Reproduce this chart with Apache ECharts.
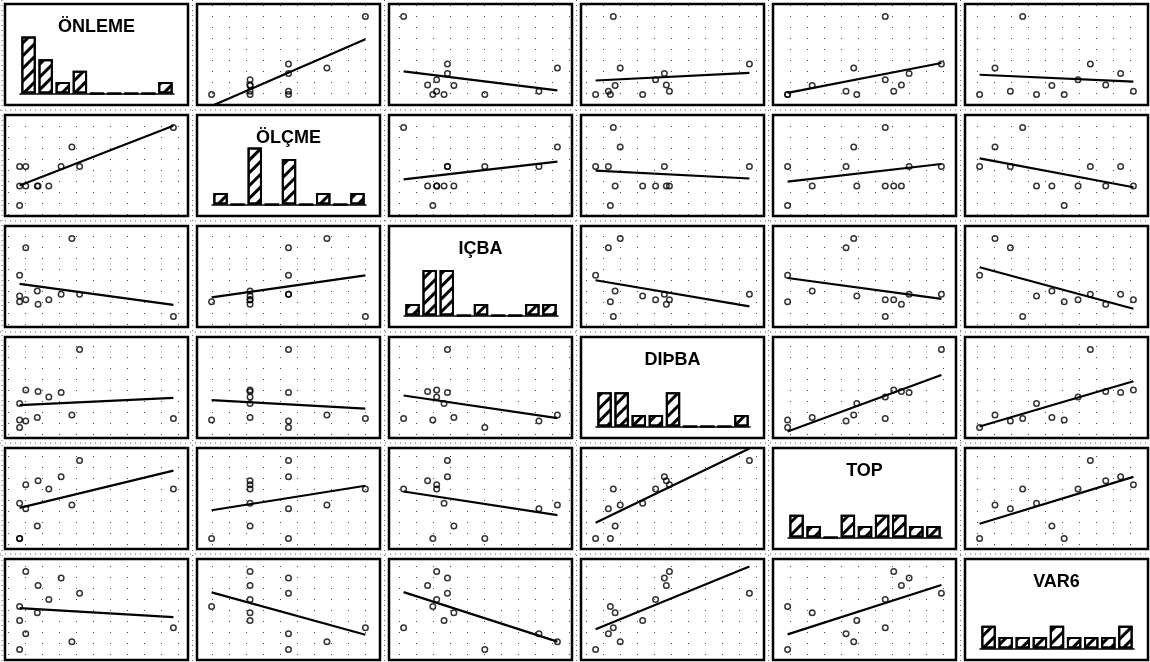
<!DOCTYPE html>
<html>
<head>
<meta charset="utf-8">
<script src="https://cdn.jsdelivr.net/npm/echarts@6/dist/echarts.min.js"></script>
<style>
  html, body { margin: 0; padding: 0; background: #fff; }
  #chart { width: 1150px; height: 662px; }
</style>
</head>
<body>
<div id="chart"></div>
<script>
const VAR_NAMES = ['ÖNLEME', 'ÖLÇME', 'IÇBA', 'DIÞBA', 'TOP', 'VAR6'];
const ONLEME = [0, 4, 0, 4, 11.5, 19, 34, 27, 39, 100, 0, 12];
const OLCME  = [50, 50, 25, 25, 25, 25, 75, 50, 50, 100, 0, 25];
const ICBA   = [52.8, 88, 26.3, 21.5, 32.7, 21.5, 100, 28.5, 28.5, 0, 19, 15.6];
const DISBA  = [0, 8.3, 30.6, 48, 12.7, 39, 16, 44.7, 100, 11.5, 9.6, 46];
const TOP    = [0, 38, 45, 69, 16, 63.5, 43, 79, 100, 63.5, 0, 74];
const VAR6   = [0, 20, 37, 100, 47, 64, 10, 91.7, 72, 28, 55, 82];

// histogram counts (9 bins each)
const HIST_BINS   = ['1', '2', '3', '4', '5', '6', '7', '8', '9'];
const ONLEME_HIST = [5, 3, 1, 2, 0, 0, 0, 0, 1];
const OLCME_HIST  = [1, 0, 5, 0, 4, 0, 1, 0, 1];
const ICBA_HIST   = [1, 4, 4, 0, 1, 0, 0, 1, 1];
const DISBA_HIST  = [3, 3, 1, 1, 3, 0, 0, 0, 1];
const TOP_HIST    = [2, 1, 0, 2, 1, 2, 2, 1, 1];
const VAR6_HIST   = [2, 1, 1, 1, 2, 1, 1, 1, 2];

const VARS  = [ONLEME, OLCME, ICBA, DISBA, TOP, VAR6];
const HISTS = [ONLEME_HIST, OLCME_HIST, ICBA_HIST, DISBA_HIST, TOP_HIST, VAR6_HIST];

// ---------- LAYOUT ----------
const X0 = 5, DX = 192, CW = 183;
const Y0 = 4, DY = 111, CH = 101;
const XPAD_L = 0.095, XPAD_R = 0.095, YPAD_B = 0.135, YPAD_T = 0.16;

function cellLeft(c) { return X0 + DX * c; }
function cellTop(r) { return Math.round(Y0 + DY * r); }

// dotted lattice pattern for scatter panels
const pc = document.createElement('canvas');
pc.width = 17; pc.height = 11;
const pctx = pc.getContext('2d');
pctx.fillStyle = '#444';
pctx.fillRect(8, 5, 1, 1);
const dotPattern = { image: pc, repeat: 'repeat' };

function ols(xs, ys) {
  const n = xs.length;
  let mx = 0, my = 0;
  for (let i = 0; i < n; i++) { mx += xs[i]; my += ys[i]; }
  mx /= n; my /= n;
  let sxx = 0, sxy = 0;
  for (let i = 0; i < n; i++) { sxx += (xs[i] - mx) ** 2; sxy += (xs[i] - mx) * (ys[i] - my); }
  const b = sxy / sxx;
  return { a: my - b * mx, b: b };
}
function range(arr) { return [Math.min.apply(null, arr), Math.max.apply(null, arr)]; }

const grids = [], xAxes = [], yAxes = [], series = [], graphics = [];
const N = VARS.length;

for (let r = 0; r < N; r++) {
  for (let c = 0; c < N; c++) {
    const idx = grids.length;
    const diag = r === c;
    grids.push({
      left: cellLeft(c), top: cellTop(r), width: CW, height: CH,
      show: true, borderColor: '#000', borderWidth: 2.5,
      backgroundColor: diag ? '#fff' : dotPattern
    });
    const xr = range(VARS[c]), yr = range(VARS[r]);
    const xs = xr[1] - xr[0], ys = yr[1] - yr[0];
    xAxes.push({ gridIndex: idx, type: 'value', show: false,
      min: xr[0] - XPAD_L * xs, max: xr[1] + XPAD_R * xs });
    yAxes.push({ gridIndex: idx, type: 'value', show: false,
      min: yr[0] - YPAD_B * ys, max: yr[1] + YPAD_T * ys });
    if (!diag) {
      const pts = VARS[c].map((v, i) => [v, VARS[r][i]]);
      series.push({
        type: 'scatter', xAxisIndex: idx, yAxisIndex: idx, data: pts,
        symbol: 'circle', symbolSize: 5.5, silent: true,
        itemStyle: { color: 'rgba(255,255,255,0)', borderColor: '#000', borderWidth: 1.5 },
        z: 3
      });
      const f = ols(VARS[c], VARS[r]);
      series.push({
        type: 'line', xAxisIndex: idx, yAxisIndex: idx, clip: true,
        data: [[xr[0], f.a + f.b * xr[0]], [xr[1], f.a + f.b * xr[1]]],
        symbol: 'none', silent: true,
        lineStyle: { color: '#000', width: 2.2 }, z: 4
      });
    }
  }
}

// histogram grids on the diagonal
for (let d = 0; d < N; d++) {
  const idx = grids.length;
  const hx = cellLeft(d) + Math.round(XPAD_L / (1 + XPAD_L + XPAD_R) * CW);
  const hw = Math.round(CW / (1 + XPAD_L + XPAD_R));
  const unit = 11.4, ymax = 6;
  const base = cellTop(d) + 89.5;
  grids.push({ left: hx, top: base - unit * ymax, width: hw, height: unit * ymax });
  xAxes.push({
    gridIndex: idx, type: 'category', data: HIST_BINS,
    axisLine: { show: true, lineStyle: { color: '#000', width: 1.5 } },
    axisTick: { show: false }, axisLabel: { show: false }, splitLine: { show: false }
  });
  yAxes.push({ gridIndex: idx, type: 'value', min: 0, max: ymax, show: false });
  series.push({
    type: 'bar', xAxisIndex: idx, yAxisIndex: idx, data: HISTS[d],
    barCategoryGap: '16%', silent: true,
    itemStyle: {
      color: '#fff', borderColor: '#000', borderWidth: 2,
      decal: {
        symbol: 'rect', symbolSize: 1,
        dashArrayX: [1, 0], dashArrayY: [2.5, 5.5],
        rotation: -Math.PI / 4, color: '#000'
      }
    },
    z: 3
  });
  graphics.push({
    type: 'text', x: cellLeft(d) + CW / 2, y: cellTop(d) + 23, z: 10,
    style: {
      text: VAR_NAMES[d], font: 'bold 18px "Liberation Sans", Arial, sans-serif',
      textAlign: 'center', textVerticalAlign: 'middle', fill: '#000'
    }
  });
}

// dotted lines in the gaps between cells (scan texture)
const dotted = { stroke: '#666', lineWidth: 1, lineDash: [1, 4] };
for (let c = 0; c <= N; c++) {
  const gx = c === 0 ? 2 : cellLeft(c) - (DX - CW) / 2;
  graphics.push({ type: 'line', shape: { x1: gx, y1: 0, x2: gx, y2: 662 }, style: dotted, silent: true, z: -1 });
}
for (let r = 1; r < N; r++) {
  const gy = cellTop(r) - (DY - CH) / 2;
  graphics.push({ type: 'line', shape: { x1: 0, y1: gy, x2: 1150, y2: gy }, style: dotted, silent: true, z: -1 });
}

const chart = echarts.init(document.getElementById('chart'), null, { renderer: 'canvas' });
chart.setOption({
  backgroundColor: '#fff',
  animation: false,
  grid: grids,
  xAxis: xAxes,
  yAxis: yAxes,
  series: series,
  graphic: graphics
});
</script>
</body>
</html>
